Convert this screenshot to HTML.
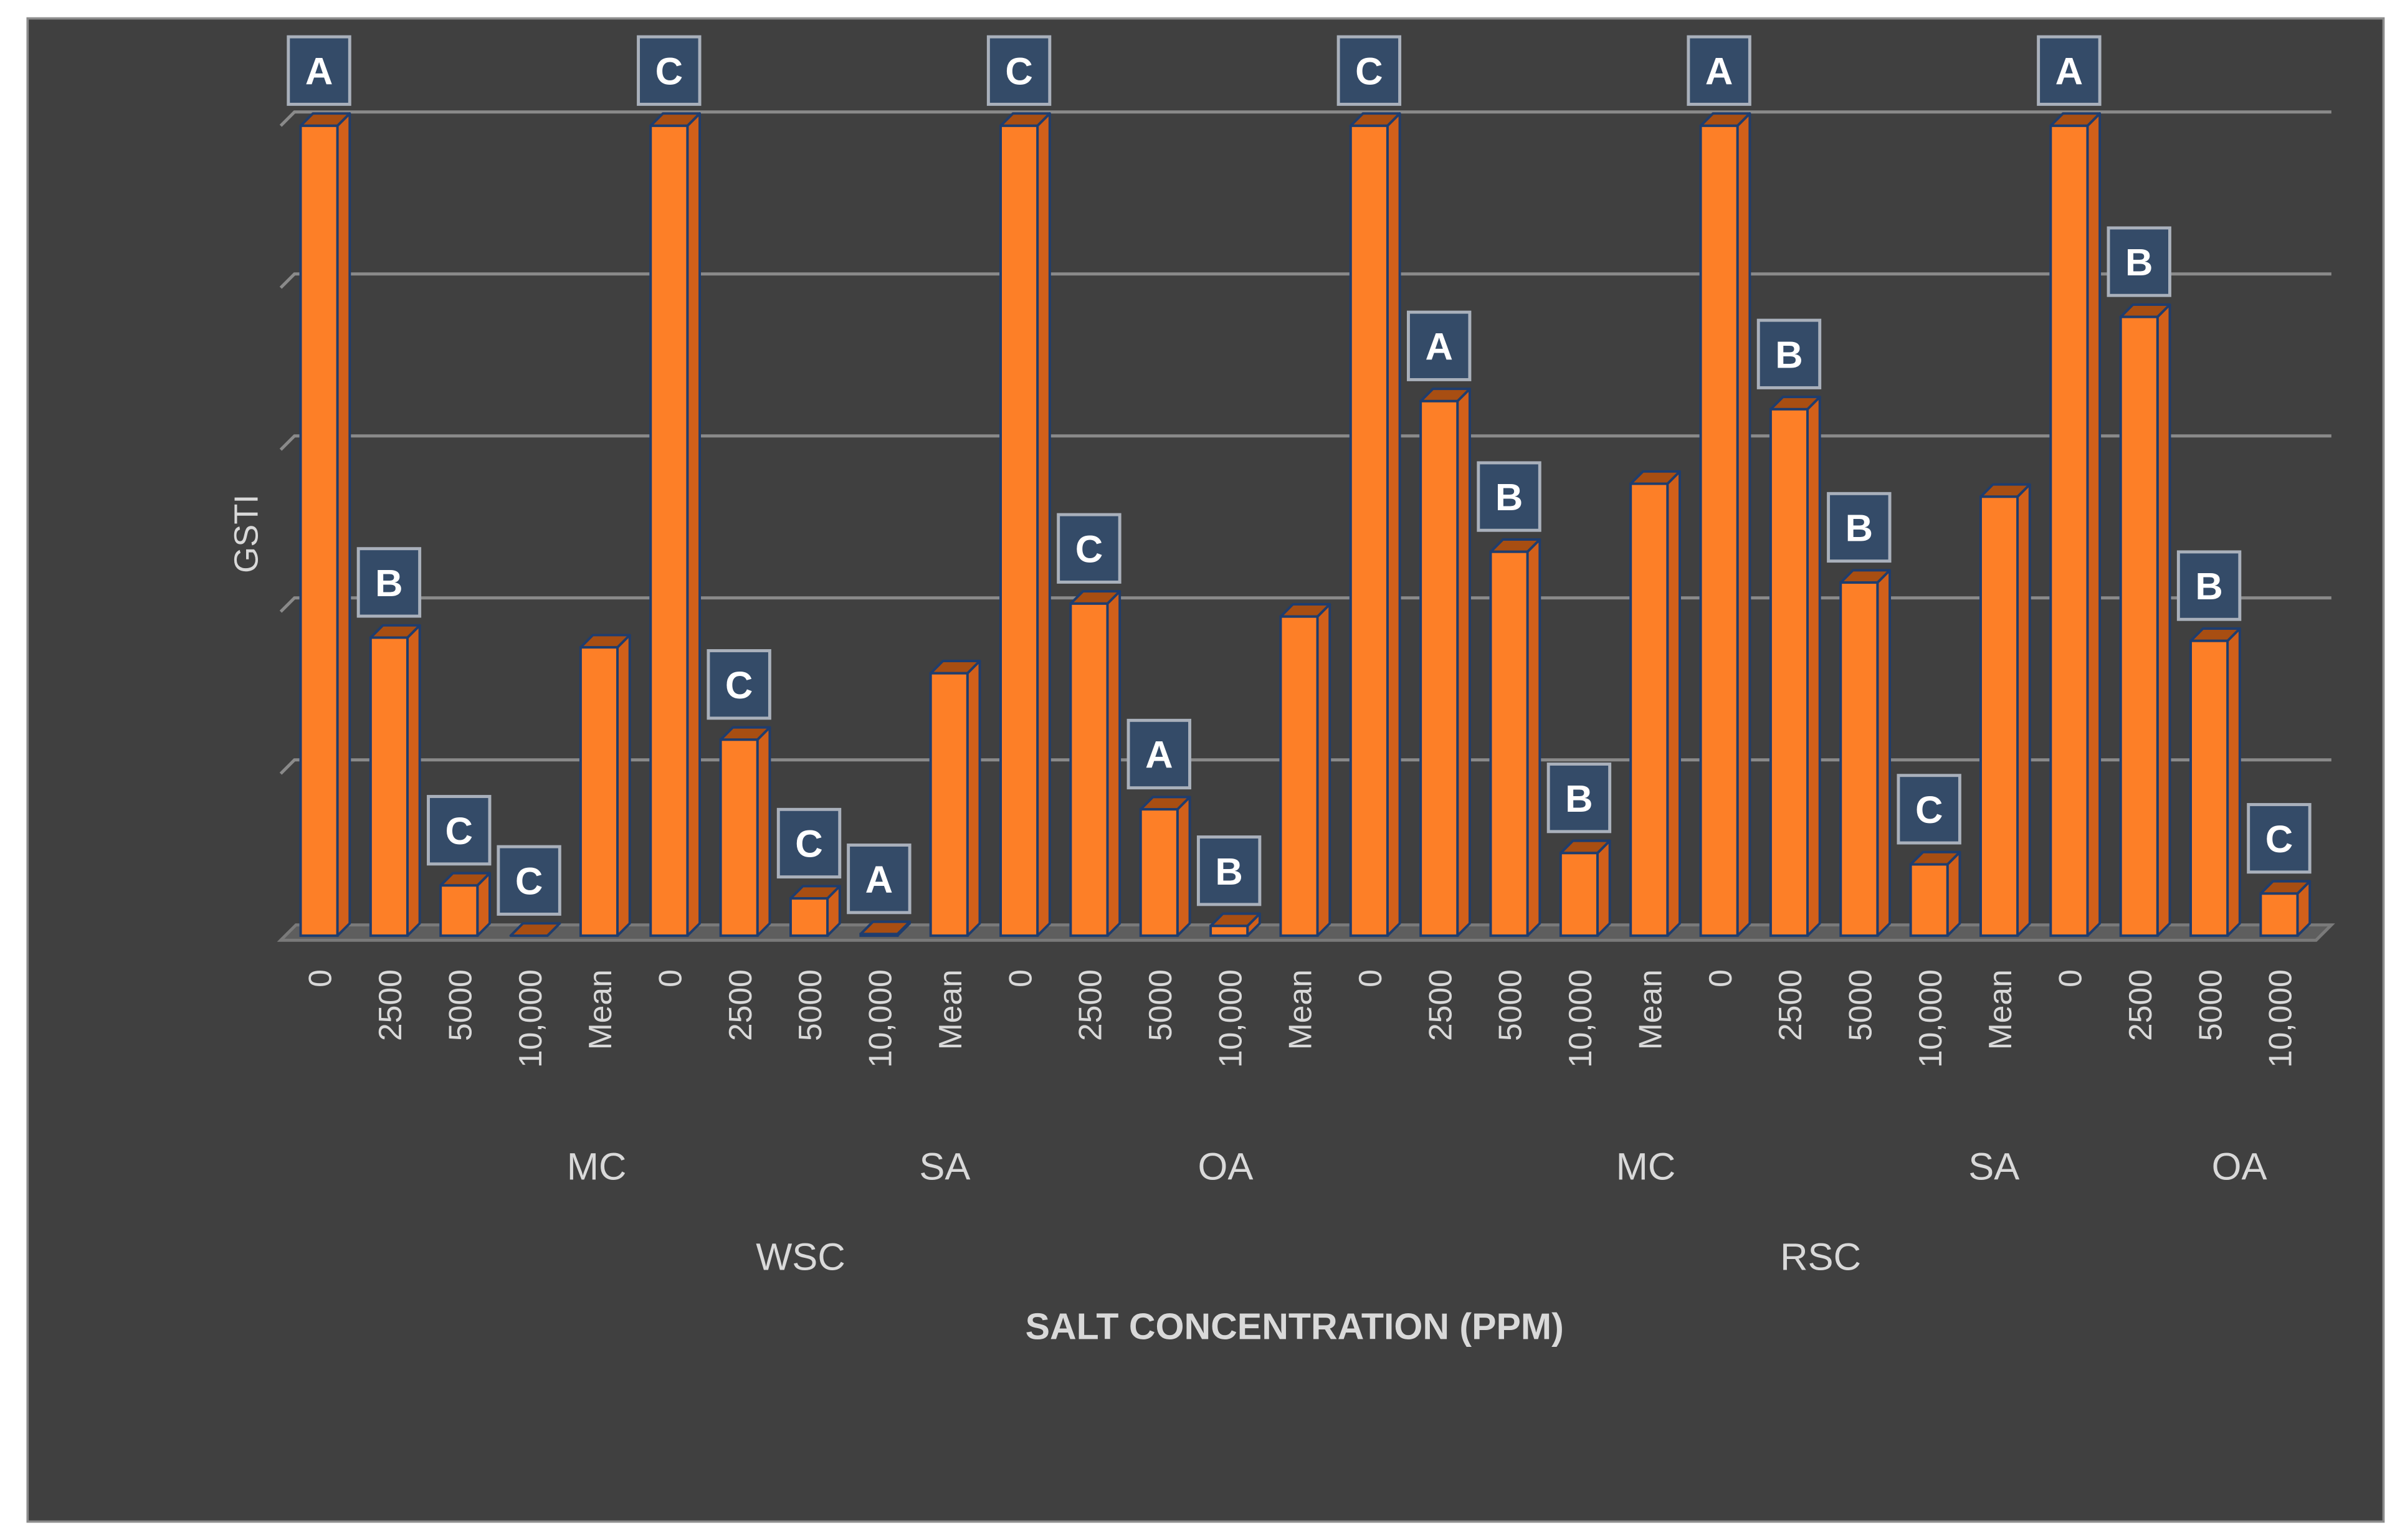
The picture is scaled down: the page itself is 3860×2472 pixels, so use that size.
<!DOCTYPE html>
<html><head><meta charset="utf-8"><style>
html,body{margin:0;padding:0;background:#fff;}
svg{display:block;}
text{font-family:"Liberation Sans","DejaVu Sans",sans-serif;}
</style></head><body>
<svg id="chart" width="3860" height="2472" viewBox="0 0 1568 1004" preserveAspectRatio="none" xmlns="http://www.w3.org/2000/svg">
<rect x="18" y="12" width="1536" height="980" fill="#404040" stroke="#8c8c8c" stroke-width="1.5"/>
<g id="grid"></g>
<g id="bars"></g>
<g id="ticks"></g>
<text transform="translate(168,348) rotate(-90)" text-anchor="middle" font-size="22" fill="#d9d9d9">GSTI</text>
<g fill="#d9d9d9" font-size="25" text-anchor="middle">
<text x="389" y="769">MC</text>
<text x="616" y="769">SA</text>
<text x="799" y="769">OA</text>
<text x="1073" y="769">MC</text>
<text x="1300" y="769">SA</text>
<text x="1460" y="769">OA</text>
<text x="522" y="828">WSC</text>
<text x="1187" y="828">RSC</text>
</g>
<text x="844" y="873" text-anchor="middle" font-size="24" font-weight="bold" fill="#d9d9d9">SALT CONCENTRATION (PPM)</text>
</svg>
<script>
const categories = ["0","2500","5000","10,000","Mean","0","2500","5000","10,000","Mean","0","2500","5000","10,000","Mean","0","2500","5000","10,000","Mean","0","2500","5000","10,000","Mean","0","2500","5000","10,000"];
const values = [5.0,1.84,0.31,0.0,1.78,5.0,1.21,0.23,0.01,1.62,5.0,2.05,0.78,0.06,1.97,5.0,3.30,2.37,0.51,2.79,5.0,3.25,2.18,0.44,2.71,5.0,3.82,1.82,0.26];
const letters = ["A","B","C","C","","C","C","C","A","","C","C","A","B","","C","A","B","B","","A","B","B","C","","A","B","B","C"];
const gridTicks = [0,1,2,3,4,5];

const NS = "http://www.w3.org/2000/svg";
const floorY = 610, unit = 105.6, x0 = 208, step = 45.64, bw = 24, dx = 8, dy = 8;
const yPos = v => floorY - v * unit;
const xPos = i => x0 + i * step;
function mk(tag, attrs, parent){const e=document.createElementNS(NS,tag);for(const k in attrs)e.setAttribute(k,attrs[k]);parent.appendChild(e);return e;}

const grid = document.getElementById('grid');
gridTicks.forEach((t,i)=>{
  const y = yPos(t);
  if(i===0){
    const f = mk('polygon',{points:`183,${y+3} 193,${y-7} 1520,${y-7} 1510,${y+3}`,fill:'#5e5e5e',stroke:'#7a7a7a','stroke-width':2},grid);
    
    
  } else {
    const g = mk('polyline',{points:`183,${y} 192,${y-9} 1520,${y-9}`,fill:'none',stroke:'#8a8a8a','stroke-width':2},grid);
    
    
  }
});

const bars = document.getElementById('bars');
const ticks = document.getElementById('ticks');
values.forEach((v,i)=>{
  const cx = xPos(i), xl = cx - bw/2, xr = cx + bw/2, yt = yPos(v), yb = floorY;
  const g = mk('g',{},bars);
  
  
  mk('polygon',{points:`${xr},${yt} ${xr+dx},${yt-dy} ${xr+dx},${yb-dy} ${xr},${yb}`,fill:'#d2601a',stroke:'#1f3d6e','stroke-width':1.6,'stroke-linejoin':'round'},g);
  mk('polygon',{points:`${xl},${yt} ${xl+dx},${yt-dy} ${xr+dx},${yt-dy} ${xr},${yt}`,fill:'#a84e12',stroke:'#1f3d6e','stroke-width':1.6,'stroke-linejoin':'round'},g);
  mk('rect',{x:xl,y:yt,width:bw,height:Math.max(0,yb-yt),fill:'#fd7f27',stroke:'#1f3d6e','stroke-width':1.6},g);
  if(letters[i]){
    const lb = mk('g',{},bars);
    
    
    const bx = cx - 20, by = yt - dy - 50;
    mk('rect',{x:bx,y:by,width:40,height:44,fill:'#344b68',stroke:'#a9b0bb','stroke-width':2},lb);
    const t = mk('text',{x:bx+20,y:by+31,'text-anchor':'middle','font-size':25,'font-weight':'bold',fill:'#ffffff'},lb);
    t.textContent = letters[i];
  }
  const tl = mk('text',{transform:`translate(${cx+8},632) rotate(-90)`,'text-anchor':'end','font-size':21,fill:'#d9d9d9','font-family':'DejaVu Sans, sans-serif'},ticks);
  
  
  tl.textContent = categories[i];
});
</script>
</body></html>
